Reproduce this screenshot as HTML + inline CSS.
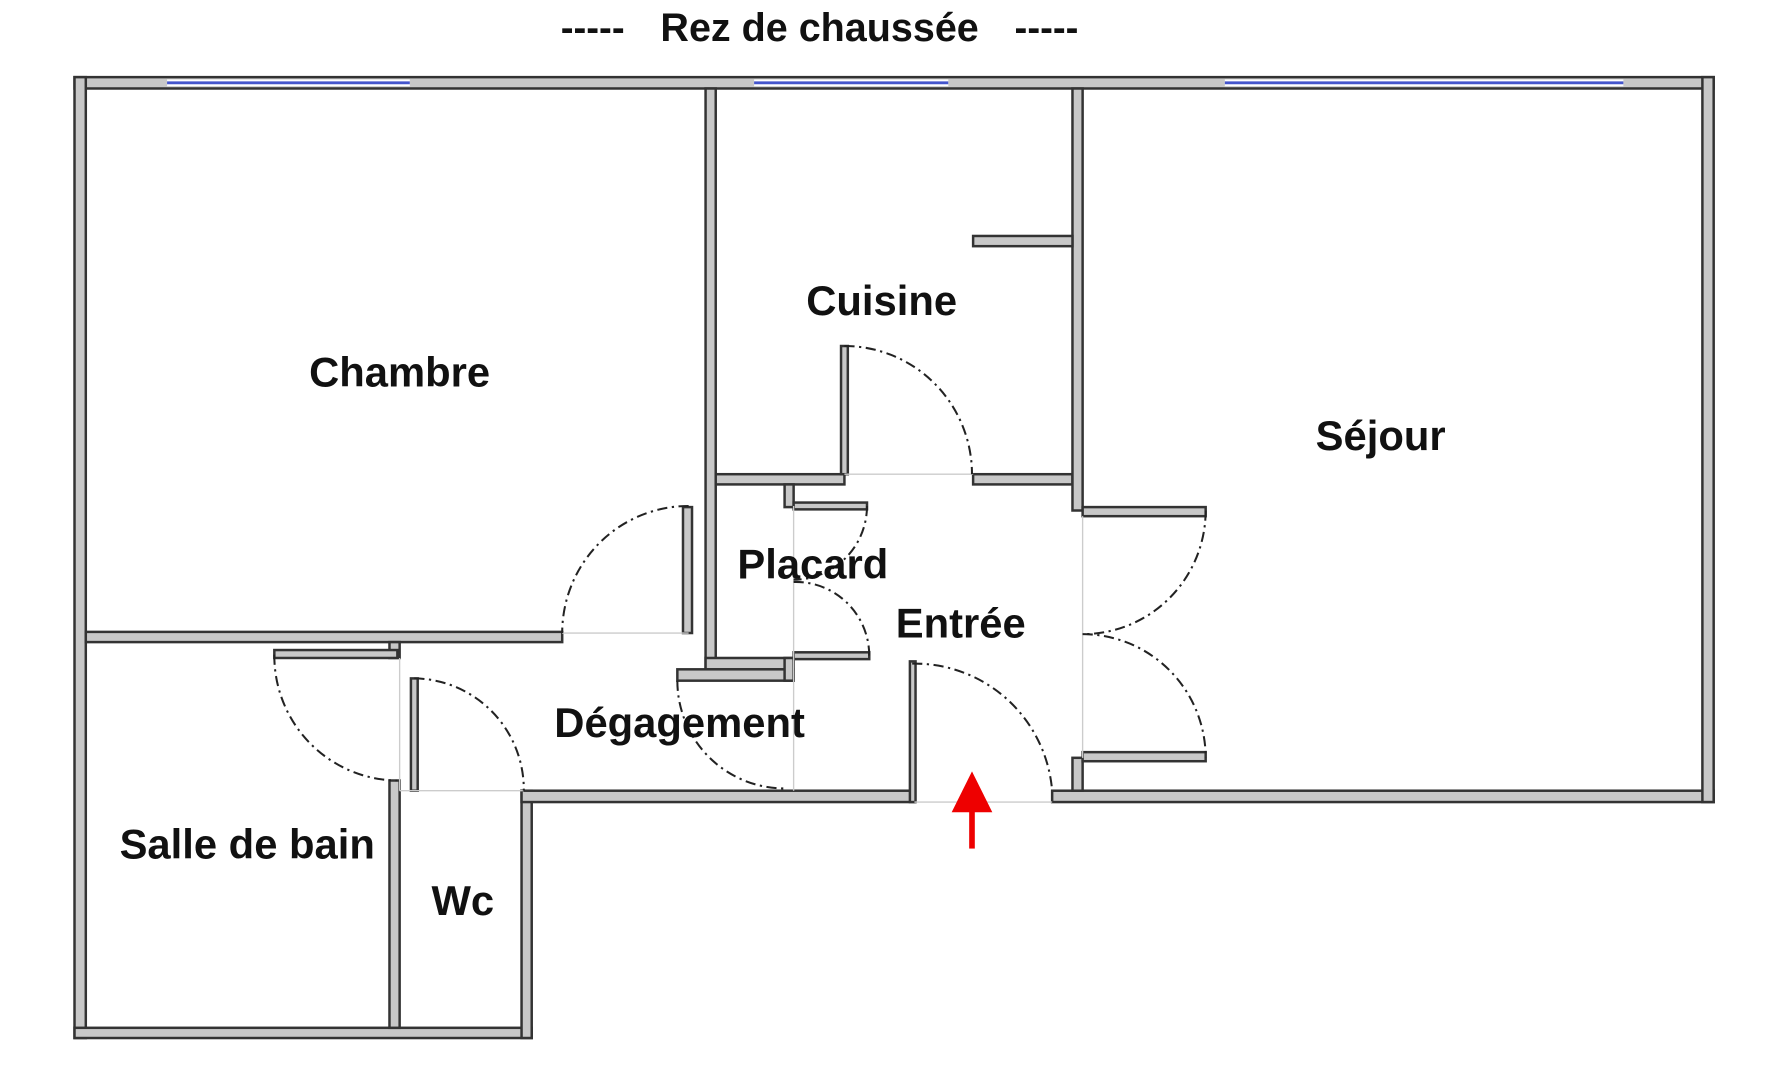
<!DOCTYPE html>
<html><head><meta charset="utf-8"><style>
html,body{margin:0;padding:0;background:#fff;width:1769px;height:1080px;overflow:hidden}
svg{display:block}
text{font-family:"Liberation Sans",sans-serif;font-weight:bold;fill:#111;text-anchor:middle;dominant-baseline:middle}
</style></head><body>
<svg width="1769" height="1080" viewBox="0 0 1567 952" preserveAspectRatio="none">
<text x="525" y="27" font-size="34">-----</text>
<text x="726" y="27" font-size="35">Rez de chaussée</text>
<text x="927" y="27" font-size="34">-----</text>
<g fill="#c8c8c8" stroke="#333" stroke-width="2.2">
<rect x="66" y="68" width="1452" height="10"/>
<rect x="66" y="68" width="10" height="847"/>
<rect x="66" y="906" width="405" height="9"/>
<rect x="462" y="697" width="9" height="218"/>
<rect x="462" y="697" width="348" height="10"/>
<rect x="932" y="697" width="586" height="10"/>
<rect x="1508" y="68" width="10" height="639"/>
<rect x="625" y="78" width="9" height="512"/>
<rect x="76" y="557" width="422" height="9"/>
<rect x="634" y="418" width="114" height="9"/>
<rect x="862" y="418" width="88" height="9"/>
<rect x="950" y="78" width="9" height="372"/>
<rect x="950" y="668" width="9" height="29"/>
<rect x="862" y="208" width="88" height="9"/>
<rect x="625" y="580" width="78" height="10"/>
<rect x="695" y="427" width="8" height="20"/>
<rect x="600" y="590" width="103" height="10"/>
<rect x="695" y="580" width="8" height="20"/>
<rect x="345" y="688" width="9" height="218"/>
<rect x="345" y="566" width="9" height="14"/>
<rect x="745" y="305" width="6" height="113"/>
<rect x="605" y="447" width="8" height="111"/>
<rect x="703" y="443" width="65" height="6"/>
<rect x="703" y="575" width="67" height="6"/>
<rect x="243" y="573" width="109" height="7"/>
<rect x="364" y="598" width="6" height="99"/>
<rect x="959" y="447" width="109" height="8"/>
<rect x="959" y="663" width="109" height="8"/>
<rect x="806" y="583" width="5" height="124"/>
</g>
<g fill="#fff" stroke="none"><rect x="148" y="70" width="215" height="6"/><rect x="668" y="70" width="172" height="6"/><rect x="1085" y="70" width="353" height="6"/></g>
<g stroke="#4455cc" stroke-width="2.5"><line x1="148" y1="73" x2="363" y2="73"/><line x1="668" y1="73" x2="840" y2="73"/><line x1="1085" y1="73" x2="1438" y2="73"/></g>
<g stroke="#ccc" stroke-width="1.2">
<line x1="498" y1="558" x2="610" y2="558"/><line x1="748" y1="418" x2="862" y2="418"/>
<line x1="703" y1="446" x2="703" y2="697"/><line x1="959" y1="455" x2="959" y2="668"/>
<line x1="354" y1="697" x2="464" y2="697"/><line x1="810" y1="707" x2="932" y2="707"/>
<line x1="354" y1="580" x2="354" y2="697"/>
</g>
<g fill="none" stroke="#222" stroke-width="1.8" stroke-dasharray="9 4 2 4">
<path d="M748 305 A113 113 0 0 1 861 418"/>
<path d="M610 446 A112 112 0 0 0 498 558"/>
<path d="M768 446 A65 65 0 0 1 703 511"/>
<path d="M703 513 A65 65 0 0 1 770 578"/>
<path d="M600 600 A95 95 0 0 0 695 695"/>
<path d="M243 577 A110 110 0 0 0 352 688"/>
<path d="M367 598 A98 98 0 0 1 464 697"/>
<path d="M808 585 A122 122 0 0 1 932 697"/>
<path d="M1068 450 A109 109 0 0 1 959 559"/>
<path d="M959 559 A109 109 0 0 1 1068 668"/>
</g>
<line x1="861" y1="712" x2="861" y2="748" stroke="#e00" stroke-width="5"/>
<polygon points="843,716 879,716 861,680" fill="#e00"/>
<g font-size="37">
<text x="354" y="331">Chambre</text>
<text x="781" y="268">Cuisine</text>
<text x="1223" y="387">Séjour</text>
<text x="720" y="500">Placard</text>
<text x="851" y="552">Entrée</text>
<text x="602" y="640">Dégagement</text>
<text x="219" y="747">Salle de bain</text>
<text x="410" y="797">Wc</text>
</g>
</svg>
</body></html>
